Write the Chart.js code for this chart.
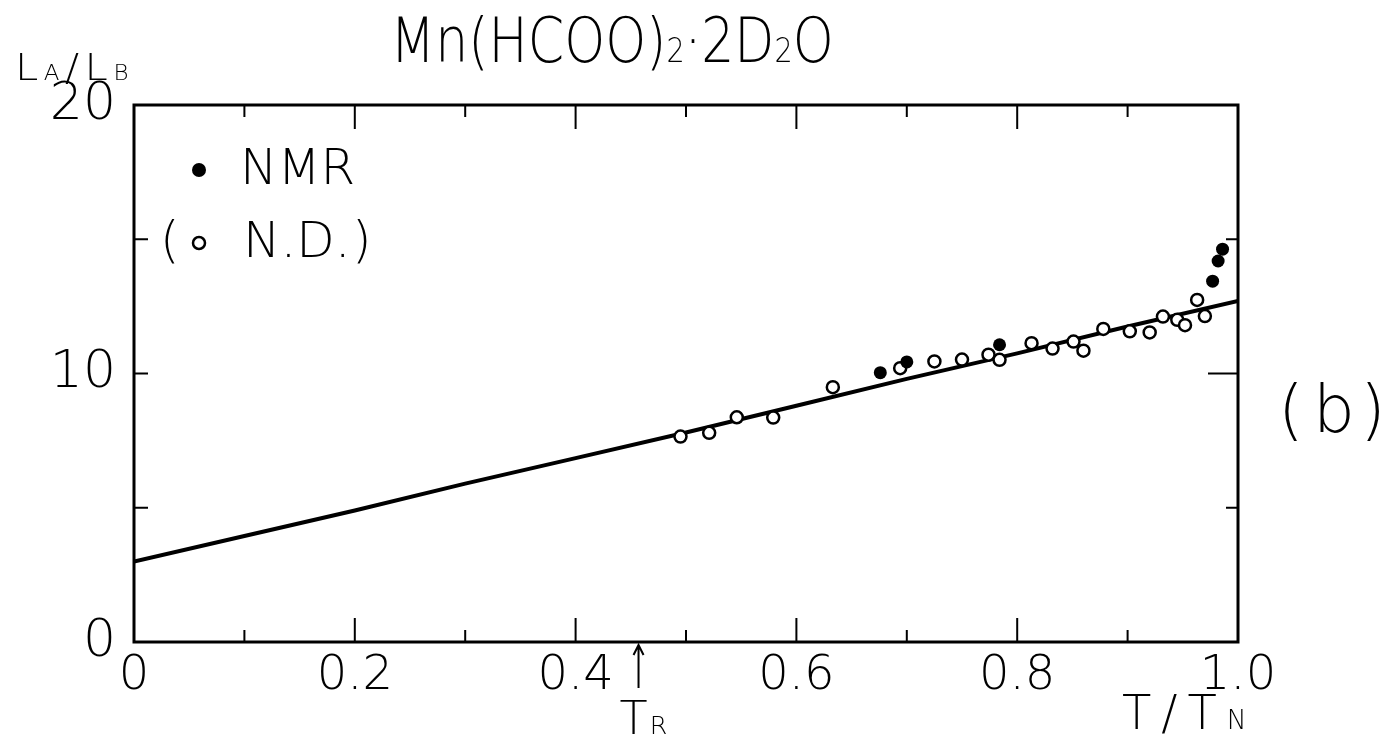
<!DOCTYPE html>
<html>
<head>
<meta charset="utf-8">
<script src="https://cdn.jsdelivr.net/npm/chart.js@4"></script>
<style>
  html, body { margin: 0; padding: 0; background: #fff; }
  #wrap { position: relative; width: 1389px; height: 737px; }
</style>
</head>
<body>
<div id="wrap"><canvas id="graph"></canvas></div>
<script>
// solid curve, read every 0.1 of T/TN
const lineT = [0, 0.1, 0.2, 0.3, 0.4, 0.5, 0.6, 0.7, 0.8, 0.9, 1.0];
const lineL = [3.0, 3.95, 4.9, 5.9, 6.85, 7.8, 8.8, 9.8, 10.75, 11.75, 12.7];

// filled circles (NMR)
const nmrT = [0.676, 0.700, 0.784, 0.977, 0.982, 0.986];
const nmrL = [10.03, 10.43, 11.07, 13.44, 14.19, 14.63];

// open circles (N.D.)
const ndT = [0.495, 0.521, 0.546, 0.579, 0.633, 0.694, 0.725, 0.750, 0.774, 0.784, 0.813,
             0.832, 0.851, 0.860, 0.878, 0.902, 0.920, 0.932, 0.945, 0.952, 0.963, 0.970];
const ndL = [7.65, 7.79, 8.37, 8.36, 9.49, 10.2, 10.45, 10.52, 10.7, 10.51, 11.13,
             10.93, 11.19, 10.85, 11.66, 11.57, 11.53, 12.12, 12.0, 11.8, 12.74, 12.14];

const xMinorTicks = [0.1, 0.3, 0.5, 0.7, 0.9];
const xMajorTicks = [0.2, 0.4, 0.6, 0.8];
const yInnerTicks = [5, 10, 15];
const trValue = 0.457; // T_R arrow

const FACE = '"DejaVu Sans", "Liberation Sans", sans-serif';
const thin = size => '200 ' + size + 'px ' + FACE;

function pts(xs, ys) {
    return xs.map((x, i) => ({ x: x, y: ys[i] }));
}

// text with subscripts, parts = [[text, isSub], ...]
function richText(ctx, parts, x, y, size, squeeze, align, gap) {
    gap = gap || 0;
    ctx.save();
    ctx.fillStyle = '#000';
    ctx.textBaseline = 'alphabetic';
    ctx.textAlign = 'left';
    let w = 0;
    parts.forEach(p => {
        ctx.font = thin(p[1] ? size * 0.55 : size);
        w += ctx.measureText(p[0]).width;
    });
    w += gap * (parts.length - 1);
    ctx.translate(x, y);
    ctx.scale(squeeze, 1);
    let cx = align === 'center' ? -w / 2 : 0;
    parts.forEach(p => {
        ctx.font = thin(p[1] ? size * 0.55 : size);
        ctx.fillText(p[0], cx, 0);
        cx += ctx.measureText(p[0]).width + gap;
    });
    ctx.restore();
}

const framePlugin = {
    id: 'frame',
    afterDraw(chart) {
        const ctx = chart.ctx;
        const a = chart.chartArea;
        const xs = chart.scales.x, ys = chart.scales.y;
        ctx.save();
        ctx.strokeStyle = '#000';
        ctx.lineWidth = 3;
        ctx.strokeRect(a.left, a.top, a.right - a.left, a.bottom - a.top);

        ctx.lineWidth = 2;
        ctx.beginPath();
        xMinorTicks.concat(xMajorTicks).forEach(v => {
            const px = xs.getPixelForValue(v);
            const len = xMajorTicks.includes(v) ? 24 : 12;
            ctx.moveTo(px, a.bottom); ctx.lineTo(px, a.bottom - len);
            ctx.moveTo(px, a.top); ctx.lineTo(px, a.top + len);
        });
        yInnerTicks.forEach(v => {
            const py = ys.getPixelForValue(v);
            ctx.moveTo(a.left, py); ctx.lineTo(a.left + 14, py);
            ctx.moveTo(a.right, py); ctx.lineTo(a.right - (v === 10 ? 30 : 12), py);
        });
        ctx.stroke();

        // legend
        ctx.fillStyle = '#000';
        ctx.beginPath();
        ctx.arc(199, 170, 7, 0, Math.PI * 2);
        ctx.fill();
        ctx.beginPath();
        ctx.lineWidth = 2.5;
        ctx.arc(199, 243, 6, 0, Math.PI * 2);
        ctx.stroke();
        ctx.font = thin(50);
        ctx.textBaseline = 'middle';
        ctx.textAlign = 'left';
        ctx.fillText('NMR', 240, 171);
        ctx.fillText('(', 160, 244);
        ctx.fillText('N.D.', 243, 244);
        ctx.fillText(')', 352, 244);

        // (b)
        ctx.font = thin(66);
        ctx.fillText('(', 1278, 415);
        ctx.fillText('b', 1313, 415);
        ctx.fillText(')', 1360, 415);

        // T_R arrow
        const tx = xs.getPixelForValue(trValue);
        ctx.lineWidth = 2;
        ctx.beginPath();
        ctx.moveTo(tx, 688); ctx.lineTo(tx, a.bottom + 3);
        ctx.moveTo(tx - 5, a.bottom + 13); ctx.lineTo(tx, a.bottom + 3); ctx.lineTo(tx + 5, a.bottom + 13);
        ctx.stroke();
        ctx.restore();

        richText(ctx, [['Mn(HCOO)', 0], ['2', 1], ['·', 0], ['2D', 0], ['2', 1], ['O', 0]], 612, 62, 62, 0.84, 'center');
        richText(ctx, [['L', 0], ['A', 1], ['/', 0], ['L', 0], ['B', 1]], 15, 80, 38, 1.1, 'left', 5);
        richText(ctx, [['T', 0], ['/', 0], ['T', 0], ['N', 1]], 1122, 729, 48, 1.0, 'left', 10);
        richText(ctx, [['T', 0], ['R', 1]], tx - 19, 734, 46, 1.0, 'left', 2);
    }
};

const ctx = document.getElementById('graph').getContext('2d');
const chart = new Chart(ctx, {
    type: 'scatter',
    data: {
        datasets: [{
            label: 'curve',
            data: pts(lineT, lineL),
            showLine: true,
            borderColor: '#000',
            borderWidth: 4,
            pointRadius: 0,
            order: 3
        }, {
            label: 'N.D.',
            data: pts(ndT, ndL),
            pointRadius: 6,
            pointBackgroundColor: '#fff',
            pointBorderColor: '#000',
            pointBorderWidth: 2.5,
            order: 2
        }, {
            label: 'NMR',
            data: pts(nmrT, nmrL),
            pointRadius: 6.5,
            pointBackgroundColor: '#000',
            pointBorderColor: '#000',
            pointBorderWidth: 0,
            order: 1
        }]
    },
    options: {
        responsive: true,
        maintainAspectRatio: false,
        animation: false,
        layout: { padding: { top: 105, right: 151, left: 0, bottom: 0 } },
        scales: {
            x: {
                type: 'linear',
                min: 0,
                max: 1,
                afterFit: s => { s.height = 95; },
                grid: { display: false },
                border: { display: false },
                ticks: {
                    stepSize: 0.2,
                    padding: -2,
                    color: '#000',
                    font: { family: FACE, size: 48, weight: 200 },
                    maxRotation: 0,
                    autoSkip: false,
                    callback: v => v === 0 ? '0' : Number(v).toFixed(1)
                }
            },
            y: {
                min: 0,
                max: 20,
                afterFit: s => { s.width = 134; },
                grid: { display: false },
                border: { display: false },
                ticks: {
                    stepSize: 10,
                    padding: 10,
                    color: '#000',
                    font: { family: FACE, size: 52, weight: 200 },
                    callback: v => String(v)
                }
            }
        },
        plugins: {
            legend: { display: false },
            tooltip: { enabled: false }
        }
    },
    plugins: [framePlugin]
});
</script>
</body>
</html>
